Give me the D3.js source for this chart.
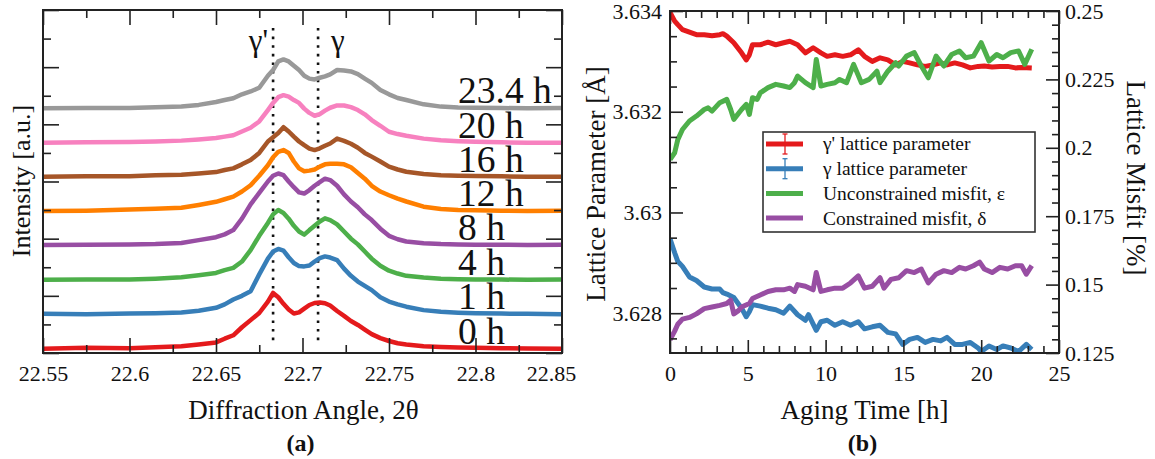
<!DOCTYPE html>
<html>
<head>
<meta charset="utf-8">
<script src="https://cdn.jsdelivr.net/npm/d3@7"></script>
<style>
  body { margin: 0; background: #fff; }
</style>
</head>
<body>
<svg id="fig" width="1155" height="459" font-family="'Liberation Serif', 'Times New Roman', Times, serif"></svg>
<script>
// ---- panel (a): diffraction scans ----
const theta = [22.55, 22.575, 22.6, 22.615, 22.63, 22.64, 22.65, 22.655, 22.66, 22.665,
  22.67, 22.675, 22.68, 22.683, 22.686, 22.689, 22.692, 22.695, 22.698, 22.701,
  22.704, 22.707, 22.71, 22.713, 22.716, 22.72, 22.724, 22.728, 22.732, 22.736,
  22.74, 22.745, 22.75, 22.755, 22.76, 22.77, 22.78, 22.79, 22.8, 22.815, 22.83, 22.85];

const scan0h = [0.15, 0.18, 0.17, 0.2, 0.24, 0.3, 0.37, 0.5, 0.62, 0.9, 1.15, 1.4, 1.8, 2.1, 1.95, 1.72, 1.52, 1.38, 1.42, 1.55,
  1.68, 1.75, 1.77, 1.74, 1.66, 1.47, 1.3, 1.12, 0.98, 0.82, 0.66, 0.52, 0.42, 0.34, 0.3, 0.24, 0.21, 0.19, 0.18, 0.17, 0.16, 0.15];
const scan1h = [1.37, 1.36, 1.38, 1.39, 1.42, 1.48, 1.58, 1.7, 1.87, 2.0, 2.16, 2.75, 3.3, 3.55, 3.64, 3.58, 3.35, 3.15, 3.04, 3.03,
  3.06, 3.2, 3.32, 3.38, 3.34, 3.25, 2.95, 2.7, 2.5, 2.35, 2.2, 1.95, 1.8, 1.7, 1.62, 1.5, 1.44, 1.41, 1.39, 1.38, 1.37, 1.36];
const scan4h = [2.56, 2.57, 2.57, 2.6, 2.65, 2.72, 2.8, 2.9, 2.98, 3.2, 3.6, 4.1, 4.55, 4.85, 5.0, 4.9, 4.7, 4.45, 4.25, 4.14,
  4.3, 4.45, 4.6, 4.71, 4.65, 4.5, 4.25, 4.0, 3.8, 3.55, 3.3, 3.05, 2.88, 2.78, 2.7, 2.64, 2.6, 2.58, 2.57, 2.57, 2.56, 2.57];
const scan8h = [3.78, 3.79, 3.8, 3.81, 3.85, 3.95, 4.05, 4.15, 4.3, 4.7, 5.2, 5.6, 6.0, 6.2, 6.28, 6.22, 6.0, 5.8, 5.62, 5.58,
  5.7, 5.85, 5.98, 6.1, 6.05, 5.85, 5.55, 5.3, 5.1, 4.85, 4.65, 4.35, 4.1, 3.98, 3.9, 3.84, 3.81, 3.8, 3.79, 3.79, 3.78, 3.79];
const scan12h = [4.97, 4.98, 5.02, 5.05, 5.08, 5.18, 5.29, 5.38, 5.47, 5.65, 5.87, 6.2, 6.57, 6.85, 7.04, 7.1, 7.0, 6.7, 6.46, 6.36,
  6.38, 6.42, 6.52, 6.6, 6.62, 6.62, 6.6, 6.5, 6.3, 6.1, 5.85, 5.65, 5.52, 5.4, 5.3, 5.12, 5.04, 5.0, 4.99, 4.98, 4.97, 4.98];
const scan16h = [6.17, 6.18, 6.18, 6.22, 6.24, 6.28, 6.33, 6.4, 6.46, 6.6, 6.75, 7.0, 7.4, 7.55, 7.7, 7.9, 7.75, 7.57, 7.4, 7.27,
  7.15, 7.1, 7.16, 7.25, 7.33, 7.5, 7.42, 7.32, 7.18, 7.0, 6.87, 6.7, 6.52, 6.42, 6.34, 6.26, 6.22, 6.2, 6.19, 6.18, 6.17, 6.17];
const scan20h = [7.36, 7.37, 7.38, 7.4, 7.43, 7.47, 7.52, 7.57, 7.62, 7.75, 7.88, 8.1, 8.5, 8.75, 8.95, 9.02, 8.97, 8.85, 8.75, 8.55,
  8.4, 8.3, 8.36, 8.48, 8.58, 8.66, 8.66, 8.6, 8.5, 8.35, 8.15, 7.95, 7.74, 7.66, 7.6, 7.5, 7.44, 7.41, 7.39, 7.37, 7.36, 7.36];
const scan23h = [8.56, 8.57, 8.57, 8.6, 8.62, 8.68, 8.78, 8.85, 8.91, 9.05, 9.15, 9.28, 9.7, 9.9, 10.2, 10.27, 10.2, 10.05, 9.9, 9.7,
  9.6, 9.57, 9.63, 9.68, 9.75, 9.9, 9.88, 9.85, 9.76, 9.6, 9.45, 9.2, 9.05, 8.92, 8.85, 8.7, 8.62, 8.59, 8.58, 8.57, 8.56, 8.57];

const scans = [scan0h, scan1h, scan4h, scan8h, scan12h, scan16h, scan20h, scan23h];
const scanLabels = ["0 h", "1 h", "4 h", "8 h", "12 h", "16 h", "20 h", "23.4 h"];
const scanColors = ["#e41a1c", "#377eb8", "#4daf4a", "#984ea3", "#ff7f00", "#a65628", "#f781bf", "#999999"];
const thetaTicks = [22.55, 22.6, 22.65, 22.7, 22.75, 22.8, 22.85];
const peakMarks = [{ pos: 22.683, label: "γ'" }, { pos: 22.709, label: "γ" }];

// ---- panel (b): aging series [time h, value] ----
const gammaPrimeParam = [[0, 3.63397], [0.3, 3.6338], [0.5, 3.63373], [0.8, 3.63363], [1.25, 3.63358], [1.7, 3.63353],
  [2.2, 3.63353], [2.7, 3.63351], [3.2, 3.63353], [3.4, 3.63355], [3.65, 3.6335], [4.1, 3.63337], [4.6, 3.63317],
  [4.9, 3.63303], [5.1, 3.63313], [5.3, 3.63333], [5.8, 3.63333], [6.3, 3.63338], [6.8, 3.63333], [7.3, 3.63337],
  [7.7, 3.6334], [8.2, 3.63333], [8.7, 3.63317], [9.2, 3.63327], [9.7, 3.63317], [10.1, 3.6331], [10.6, 3.63313],
  [11.1, 3.6331], [11.6, 3.63313], [12.1, 3.63323], [12.5, 3.6331], [13.0, 3.633], [13.5, 3.63307], [14.0, 3.63303],
  [14.5, 3.63293], [14.95, 3.633], [15.4, 3.63297], [15.9, 3.63293], [16.4, 3.6329], [16.9, 3.63293], [17.4, 3.63297],
  [17.8, 3.63293], [18.3, 3.63297], [18.8, 3.63293], [19.3, 3.63287], [19.8, 3.6329], [20.2, 3.63291], [20.7, 3.63289],
  [21.2, 3.6329], [21.7, 3.6329], [22.2, 3.63287], [22.6, 3.63288], [23.25, 3.63287]];
const gammaParam = [[0, 3.62948], [0.3, 3.6292], [0.5, 3.62903], [0.8, 3.62893], [1.25, 3.62872], [1.7, 3.62865],
  [2.2, 3.62852], [2.7, 3.62848], [3.2, 3.62848], [3.4, 3.62841], [3.65, 3.62838], [4.1, 3.62831], [4.6, 3.6281],
  [4.9, 3.62793], [5.1, 3.62803], [5.3, 3.62817], [5.8, 3.62814], [6.3, 3.6281], [6.8, 3.62807], [7.3, 3.628],
  [7.7, 3.62814], [8.2, 3.62797], [8.7, 3.62786], [8.9, 3.62797], [9.4, 3.62766], [9.7, 3.62783], [10.1, 3.62786],
  [10.6, 3.62776], [11.1, 3.62783], [11.6, 3.62776], [12.1, 3.62783], [12.5, 3.62769], [13.0, 3.62773], [13.5, 3.62776],
  [14.0, 3.62762], [14.5, 3.62759], [14.95, 3.62738], [15.4, 3.62748], [15.9, 3.62752], [16.4, 3.62742], [16.9, 3.62748],
  [17.4, 3.62745], [17.8, 3.62752], [18.3, 3.62738], [18.8, 3.62738], [19.3, 3.62742], [19.8, 3.62731], [20.0, 3.62724],
  [20.5, 3.62735], [21.0, 3.62728], [21.4, 3.62735], [21.9, 3.62731], [22.4, 3.62724], [22.9, 3.62738], [23.25, 3.62728]];
const unconstrainedMisfit = [[0, 0.1957], [0.3, 0.1982], [0.5, 0.203], [0.8, 0.2067], [1.25, 0.2098], [1.7, 0.2116],
  [2.2, 0.214], [2.45, 0.2146], [2.7, 0.2134], [3.2, 0.2165], [3.65, 0.2177], [3.9, 0.214], [4.1, 0.2104], [4.6, 0.214],
  [4.9, 0.2159], [5.1, 0.2122], [5.3, 0.2183], [5.6, 0.2177], [5.8, 0.2201], [6.3, 0.222], [6.8, 0.2232], [7.3, 0.2226],
  [7.7, 0.222], [8.0, 0.2238], [8.2, 0.2262], [8.7, 0.2238], [9.2, 0.222], [9.4, 0.2323], [9.7, 0.2226], [10.1, 0.2232],
  [10.6, 0.2238], [10.9, 0.225], [11.35, 0.2238], [11.8, 0.2305], [12.3, 0.2238], [12.8, 0.225], [13.3, 0.228],
  [13.5, 0.2238], [14.0, 0.228], [14.5, 0.2311], [14.7, 0.2299], [15.2, 0.2335], [15.7, 0.2348], [16.15, 0.2299],
  [16.6, 0.2256], [17.1, 0.2335], [17.6, 0.2299], [18.1, 0.2341], [18.6, 0.2354], [19.0, 0.2329], [19.5, 0.2335],
  [20.0, 0.2384], [20.5, 0.2317], [21.0, 0.2341], [21.4, 0.2329], [21.9, 0.2348], [22.4, 0.2354], [22.8, 0.2305], [23.25, 0.236]];
const constrainedMisfit = [[0, 0.1298], [0.3, 0.133], [0.5, 0.1355], [0.8, 0.1374], [1.25, 0.138], [1.7, 0.1393],
  [2.2, 0.1412], [2.7, 0.1418], [3.2, 0.1424], [3.65, 0.1431], [3.9, 0.1443], [4.1, 0.1393], [4.4, 0.1405], [4.6, 0.1418],
  [5.1, 0.1431], [5.3, 0.1449], [5.8, 0.1462], [6.3, 0.1475], [6.8, 0.1481], [7.3, 0.1481], [7.7, 0.1487], [8.0, 0.1475],
  [8.2, 0.15], [8.7, 0.1494], [9.2, 0.1481], [9.4, 0.1544], [9.7, 0.1475], [10.1, 0.1481], [10.6, 0.1487], [11.1, 0.1487],
  [11.6, 0.1506], [12.1, 0.1532], [12.5, 0.1487], [13.0, 0.1494], [13.5, 0.1525], [13.75, 0.1487], [14.2, 0.1519],
  [14.7, 0.1525], [15.2, 0.1551], [15.7, 0.1544], [16.15, 0.1557], [16.6, 0.1506], [17.1, 0.1538], [17.6, 0.1551],
  [18.1, 0.1544], [18.6, 0.1563], [19.0, 0.1557], [19.5, 0.1569], [19.9, 0.1582], [20.2, 0.1557], [20.7, 0.1544],
  [21.2, 0.1563], [21.7, 0.1557], [22.2, 0.1569], [22.6, 0.1569], [22.9, 0.1538], [23.25, 0.1569]];

const timeTicks = [0, 5, 10, 15, 20, 25];
const paramTicks = [3.628, 3.63, 3.632, 3.634];
const misfitTicks = [0.125, 0.15, 0.175, 0.2, 0.225, 0.25];
const legendLabels = ["γ' lattice parameter", "γ lattice parameter", "Unconstrained misfit, ε", "Constrained misfit, δ"];
const seriesColors = ["#e41a1c", "#377eb8", "#4daf4a", "#984ea3"];

const svg = d3.select("#fig");
const frameColor = "#222";
const serif = "'Liberation Serif', 'Times New Roman', Times, serif";

function styleAxis(g, fontSize) {
  g.attr("font-family", serif);
  g.select(".domain").remove();
  g.selectAll("line").attr("stroke", frameColor).attr("stroke-width", 1.6);
  g.selectAll("text").attr("font-size", fontSize).attr("font-family", serif).attr("fill", "#111");
}

function range(a, b, step) {
  const out = [];
  for (let v = a; v <= b + step / 2; v += step) out.push(+v.toFixed(6));
  return out;
}

// ================= panel (a) =================
const A = { left: 43, right: 562, top: 10, bottom: 353 };
const xA = d3.scaleLinear().domain([22.55, 22.85]).range([A.left, A.right]);
const yA = d3.scaleLinear().domain([0, 12]).range([A.bottom, A.top]);
const ga = svg.append("g").attr("font-family", serif).attr("fill", "#111");

ga.append("clipPath").attr("id", "clipA").append("rect")
  .attr("x", A.left).attr("y", A.top).attr("width", A.right - A.left).attr("height", A.bottom - A.top);

// dotted peak markers
peakMarks.forEach(p => {
  ga.append("line")
    .attr("x1", xA(p.pos)).attr("x2", xA(p.pos))
    .attr("y1", 28).attr("y2", 343)
    .attr("stroke", "#111").attr("stroke-width", 2.6)
    .attr("stroke-dasharray", "2.6,6");
});

const scanLine = d3.line().x((d, i) => xA(theta[i])).y(d => yA(d));
ga.append("g").attr("clip-path", "url(#clipA)")
  .selectAll("path").data(scans).join("path")
  .attr("d", scanLine)
  .attr("fill", "none")
  .attr("stroke", (d, i) => scanColors[i])
  .attr("stroke-width", 4.5)
  .attr("stroke-linejoin", "round");

// scan labels
ga.selectAll("text.scan").data(scans).join("text")
  .attr("class", "scan")
  .attr("x", 458)
  .attr("y", d => yA(d[0]) - 5)
  .attr("font-size", 37.5)
  .text((d, i) => scanLabels[i]);

ga.append("text").attr("x", 268).attr("y", 51).attr("text-anchor", "end")
  .attr("font-size", 31).text(peakMarks[0].label);
ga.append("text").attr("x", 331).attr("y", 51)
  .attr("font-size", 31).text(peakMarks[1].label);

// axes (a)
const minorTheta = range(22.55, 22.85, 0.025).filter(v => !thetaTicks.some(t => Math.abs(t - v) < 1e-6));
const bottomA = ga.append("g").attr("transform", `translate(0,${A.bottom})`)
  .call(d3.axisBottom(xA).tickValues(thetaTicks).tickSize(-15).tickPadding(12).tickFormat(d3.format("")));
styleAxis(bottomA, 22);
bottomA.selectAll("text").filter(d => d === 22.85).attr("dx", -11);
ga.append("g").attr("transform", `translate(0,${A.bottom})`)
  .call(d3.axisBottom(xA).tickValues(minorTheta).tickSize(-8).tickFormat(""))
  .call(g => styleAxis(g, 22));
ga.append("g").attr("transform", `translate(0,${A.top})`)
  .call(d3.axisTop(xA).tickValues(thetaTicks).tickSize(-15).tickFormat(""))
  .call(g => styleAxis(g, 22));
ga.append("g").attr("transform", `translate(0,${A.top})`)
  .call(d3.axisTop(xA).tickValues(minorTheta).tickSize(-8).tickFormat(""))
  .call(g => styleAxis(g, 22));

const intMajor = range(0, 12, 2), intMinor = range(1, 11, 2);
[[d3.axisLeft, A.left], [d3.axisRight, A.right]].forEach(([ax, x]) => {
  ga.append("g").attr("transform", `translate(${x},0)`)
    .call(ax(yA).tickValues(intMajor).tickSize(-16).tickFormat(""))
    .call(g => styleAxis(g, 22));
  ga.append("g").attr("transform", `translate(${x},0)`)
    .call(ax(yA).tickValues(intMinor).tickSize(-8).tickFormat(""))
    .call(g => styleAxis(g, 22));
});

ga.append("rect").attr("x", A.left).attr("y", A.top)
  .attr("width", A.right - A.left).attr("height", A.bottom - A.top)
  .attr("fill", "none").attr("stroke", frameColor).attr("stroke-width", 2);

ga.append("text").attr("x", (A.left + A.right) / 2 + 1).attr("y", 419)
  .attr("text-anchor", "middle").attr("font-size", 27).text("Diffraction Angle, 2θ");
ga.append("text").attr("transform", "translate(30,181) rotate(-90)")
  .attr("text-anchor", "middle").attr("font-size", 26).text("Intensity [a.u.]");
ga.append("text").attr("x", (A.left + A.right) / 2 - 2).attr("y", 451)
  .attr("text-anchor", "middle").attr("font-size", 24).attr("font-weight", "bold").text("(a)");

// ================= panel (b) =================
const B = { left: 670, right: 1059, top: 11, bottom: 353 };
const xB = d3.scaleLinear().domain([0, 25]).range([B.left, B.right]);
const yParam = d3.scaleLinear().domain([3.62721, 3.634]).range([B.bottom, B.top]);
const yMisfit = d3.scaleLinear().domain([0.125, 0.25]).range([B.bottom, B.top]);
const gb = svg.append("g").attr("font-family", serif).attr("fill", "#111");

gb.append("clipPath").attr("id", "clipB").append("rect")
  .attr("x", B.left).attr("y", B.top).attr("width", B.right - B.left).attr("height", B.bottom - B.top);

const paramLine = d3.line().x(d => xB(d[0])).y(d => yParam(d[1]));
const misfitLine = d3.line().x(d => xB(d[0])).y(d => yMisfit(d[1]));
const seriesB = [
  { data: gammaPrimeParam, line: paramLine },
  { data: gammaParam, line: paramLine },
  { data: unconstrainedMisfit, line: misfitLine },
  { data: constrainedMisfit, line: misfitLine }
];
gb.append("g").attr("clip-path", "url(#clipB)")
  .selectAll("path").data(seriesB).join("path")
  .attr("d", d => d.line(d.data))
  .attr("fill", "none")
  .attr("stroke", (d, i) => seriesColors[i])
  .attr("stroke-width", 5)
  .attr("stroke-linejoin", "round");

const minorTime = range(0, 25, 1).filter(v => v % 5 !== 0);
gb.append("g").attr("transform", `translate(0,${B.bottom})`)
  .call(d3.axisBottom(xB).tickValues(timeTicks).tickSize(-13).tickPadding(12))
  .call(g => styleAxis(g, 22));
gb.append("g").attr("transform", `translate(0,${B.bottom})`)
  .call(d3.axisBottom(xB).tickValues(minorTime).tickSize(-7).tickFormat(""))
  .call(g => styleAxis(g, 22));
gb.append("g").attr("transform", `translate(0,${B.top})`)
  .call(d3.axisTop(xB).tickValues(timeTicks).tickSize(-13).tickFormat(""))
  .call(g => styleAxis(g, 22));
gb.append("g").attr("transform", `translate(0,${B.top})`)
  .call(d3.axisTop(xB).tickValues(minorTime).tickSize(-7).tickFormat(""))
  .call(g => styleAxis(g, 22));

const minorParam = range(3.6275, 3.6335, 0.0005).filter(v => !paramTicks.some(t => Math.abs(t - v) < 1e-7));
gb.append("g").attr("transform", `translate(${B.left},0)`)
  .call(d3.axisLeft(yParam).tickValues(paramTicks).tickSize(-13).tickPadding(8).tickFormat(d3.format("")))
  .call(g => styleAxis(g, 22));
gb.append("g").attr("transform", `translate(${B.left},0)`)
  .call(d3.axisLeft(yParam).tickValues(minorParam).tickSize(-7).tickFormat(""))
  .call(g => styleAxis(g, 22));

const minorMisfit = range(0.13, 0.245, 0.005).filter(v => !misfitTicks.some(t => Math.abs(t - v) < 1e-7));
gb.append("g").attr("transform", `translate(${B.right},0)`)
  .call(d3.axisRight(yMisfit).tickValues(misfitTicks).tickSize(-13).tickPadding(6).tickFormat(d3.format("")))
  .call(g => styleAxis(g, 22));
gb.append("g").attr("transform", `translate(${B.right},0)`)
  .call(d3.axisRight(yMisfit).tickValues(minorMisfit).tickSize(-7).tickFormat(""))
  .call(g => styleAxis(g, 22));

gb.append("rect").attr("x", B.left).attr("y", B.top)
  .attr("width", B.right - B.left).attr("height", B.bottom - B.top)
  .attr("fill", "none").attr("stroke", frameColor).attr("stroke-width", 2);

// legend
const leg = gb.append("g").attr("transform", "translate(763,132)");
leg.append("rect").attr("width", 272).attr("height", 100)
  .attr("fill", "#fff").attr("stroke", "#333").attr("stroke-width", 1.6);
const rows = leg.selectAll("g").data(legendLabels).join("g")
  .attr("transform", (d, i) => `translate(0,${12 + i * 24.7})`);
rows.append("line").attr("x1", 3).attr("x2", 40)
  .attr("stroke", (d, i) => seriesColors[i]).attr("stroke-width", 5);
rows.filter((d, i) => i < 2).each(function (d, i) {
  const r = d3.select(this);
  r.append("line").attr("x1", 22).attr("x2", 22).attr("y1", -10).attr("y2", 10)
    .attr("stroke", seriesColors[i]).attr("stroke-width", 1.3);
  [-10, 10].forEach(y => r.append("line").attr("x1", 19.5).attr("x2", 24.5).attr("y1", y).attr("y2", y)
    .attr("stroke", seriesColors[i]).attr("stroke-width", 1.3));
});
rows.append("text").attr("x", 60).attr("dy", "0.33em")
  .attr("font-size", 19.5).text(d => d);

gb.append("text").attr("x", (B.left + B.right) / 2).attr("y", 419)
  .attr("text-anchor", "middle").attr("font-size", 27).text("Aging Time [h]");
gb.append("text").attr("transform", "translate(605,184) rotate(-90)")
  .attr("text-anchor", "middle").attr("font-size", 27).text("Lattice Parameter [Å]");
gb.append("text").attr("transform", "translate(1127,178) rotate(90)")
  .attr("text-anchor", "middle").attr("font-size", 27).text("Lattice Misfit [%]");
gb.append("text").attr("x", (B.left + B.right) / 2 - 2).attr("y", 451)
  .attr("text-anchor", "middle").attr("font-size", 24).attr("font-weight", "bold").text("(b)");
</script>
</body>
</html>
